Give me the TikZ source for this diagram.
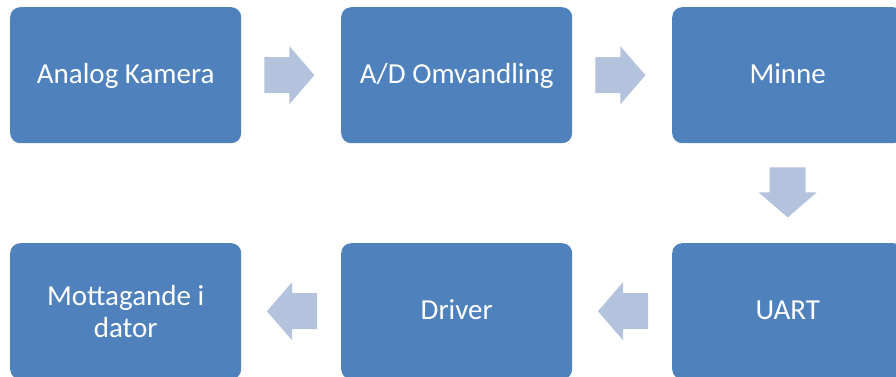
\documentclass[tikz,border=0pt]{standalone}
\usepackage{fontspec}
\setmainfont{Carlito}
\usetikzlibrary{calc}
\definecolor{boxblue}{RGB}{79,129,189}
\definecolor{arrowblue}{RGB}{179,194,221}
\tikzset{
  box/.style={fill=boxblue, rounded corners=10pt, minimum width=231pt, minimum height=136pt,
    inner sep=0pt, text=white, font=\fontsize{29}{32}\selectfont, align=center, anchor=north west},
  oneline/.style={text height=21pt, text depth=5pt},
  barrow/.pic={\fill[arrowblue] (0,-18) -- (25,-18) -- (25,-29) -- (50,0) -- (25,29) -- (25,18) -- (0,18) -- cycle;}
}
\begin{document}
\begin{tikzpicture}[x=1pt,y=-1pt]
\useasboundingbox (0,0) rectangle (896,376);
\clip (0,0) rectangle (896,376);
\fill[white] (0,0) rectangle (896,376);
\node[box,oneline] (a) at (10,7) {Analog Kamera};
\node[box,oneline] (b) at (341,7) {A/D Omvandling};
\node[box,oneline] (c) at (672,7) {Minne};
\node[box] (d) at (10,243) {Mottagande i\\dator};
\node[box,oneline] (e) at (341,243) {Driver};
\node[box,oneline] (f) at (672,243) {UART};
\pic at ($(a.east)+(23,0)$) {barrow};
\pic at ($(b.east)+(23,0)$) {barrow};
\pic[rotate=-90] at ($(c.south)+(0,24)$) {barrow};
\pic[rotate=180] at ($(f.west)+(-24,0)$) {barrow};
\pic[rotate=180] at ($(e.west)+(-24,0)$) {barrow};
\end{tikzpicture}
\end{document}
